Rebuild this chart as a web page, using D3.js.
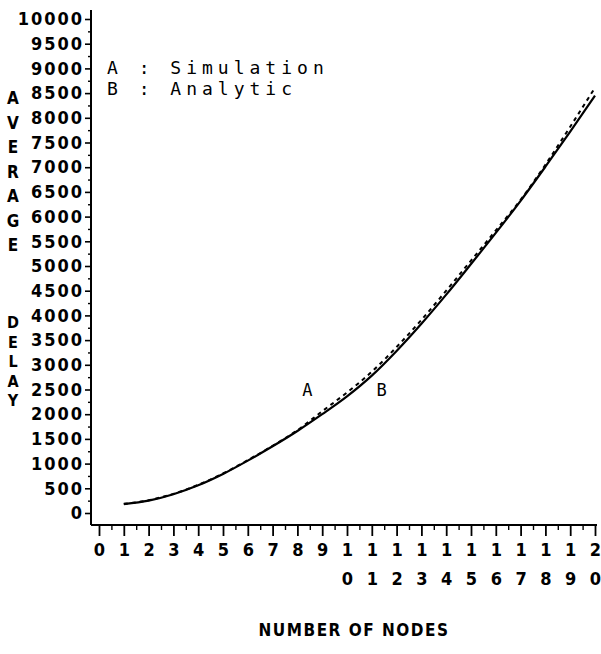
<!DOCTYPE html>
<html>
<head>
<meta charset="utf-8">
<script src="https://cdn.jsdelivr.net/npm/d3@7"></script>
<style>
  html, body { margin: 0; padding: 0; background: #fff; }
  svg { display: block; }
</style>
</head>
<body>
<svg id="chart" width="601" height="654"></svg>
<script>
// ---- data ----
const nodes = [1, 2, 3, 4, 5, 6, 7, 8, 9, 10, 11, 12, 13, 14, 15, 16, 17, 18, 19, 20];
const simulation = [180, 250, 380, 560, 790, 1060, 1350, 1660, 2000, 2360, 2780, 3280, 3830, 4420, 5040, 5670, 6320, 7010, 7720, 8450];
const analytic   = [185, 258, 388, 570, 800, 1070, 1360, 1675, 2060, 2440, 2860, 3360, 3910, 4500, 5110, 5720, 6340, 7050, 7820, 8610];
const yTicks = d3.range(0, 10001, 500);
const xTicks = d3.range(0, 21, 1);
const legendLines = ["A : Simulation", "B : Analytic"];
const yTitleTop = "AVERAGE";
const yTitleBottom = "DELAY";
const xTitle = "NUMBER OF NODES";
const curveLabels = [{t: "A", n: 8.4, v: 2370}, {t: "B", n: 11.4, v: 2370}];

// ---- scales ----
const svg = d3.select("#chart");
const x = d3.scaleLinear().domain([0, 20]).range([99, 595]);
const y = d3.scaleLinear().domain([0, 10000]).range([513, 19]);
const axisX0 = 91, axisY0 = 525;
const plotFont = "'DejaVu Sans Condensed', 'DejaVu Sans', sans-serif";

// axis lines
svg.append("line").attr("x1", axisX0).attr("x2", axisX0).attr("y1", 10).attr("y2", axisY0)
  .attr("stroke", "#000").attr("stroke-width", 2);
svg.append("line").attr("x1", axisX0).attr("x2", 597).attr("y1", axisY0).attr("y2", axisY0)
  .attr("stroke", "#000").attr("stroke-width", 2);

// y axis major
const yAx = svg.append("g").attr("transform", `translate(${axisX0},0)`)
  .call(d3.axisLeft(y).tickValues(yTicks).tickSize(6).tickPadding(1).tickFormat(d3.format("d")));
yAx.select(".domain").remove();
yAx.selectAll("line").attr("stroke-width", 1.6);
yAx.selectAll("text").attr("font-family", plotFont).attr("font-weight", "bold")
  .attr("font-size", 18).attr("letter-spacing", "2px").attr("fill", "#000");
// y axis minor
const yMin = svg.append("g").attr("transform", `translate(${axisX0},0)`)
  .call(d3.axisLeft(y).tickValues(yTicks.slice(0, -1).map(v => v + 250)).tickSize(3).tickFormat(""));
yMin.select(".domain").remove();
yMin.selectAll("line").attr("stroke-width", 1.4);

// x axis major
const xAx = svg.append("g").attr("transform", `translate(0,${axisY0})`)
  .call(d3.axisBottom(x).tickValues(xTicks).tickSize(11).tickFormat(""));
xAx.select(".domain").remove();
xAx.selectAll("line").attr("stroke-width", 1.8);
// two-row labels
xAx.selectAll(".tick").each(function(d) {
  const s = String(d);
  const g = d3.select(this);
  g.append("text").attr("y", 31).attr("text-anchor", "middle")
    .attr("font-family", plotFont).attr("font-weight", "bold").attr("font-size", 18)
    .attr("fill", "#000").text(s[0]);
  if (s.length > 1) {
    g.append("text").attr("y", 60).attr("text-anchor", "middle")
      .attr("font-family", plotFont).attr("font-weight", "bold").attr("font-size", 18)
      .attr("fill", "#000").text(s[1]);
  }
});
// x axis minor
const xMin = svg.append("g").attr("transform", `translate(0,${axisY0})`)
  .call(d3.axisBottom(x).tickValues(xTicks.slice(0, -1).map(v => v + 0.5)).tickSize(5).tickFormat(""));
xMin.select(".domain").remove();
xMin.selectAll("line").attr("stroke-width", 1.4);

// curves
const line = d3.line().x((d, i) => x(nodes[i])).y(d => y(d)).curve(d3.curveMonotoneX);
svg.append("path").datum(simulation).attr("d", line)
  .attr("fill", "none").attr("stroke", "#000").attr("stroke-width", 2.2);
svg.append("path").datum(analytic).attr("d", line)
  .attr("fill", "none").attr("stroke", "#000").attr("stroke-width", 2)
  .attr("stroke-dasharray", "4,4");

// curve labels
svg.selectAll("text.cl").data(curveLabels).enter().append("text").attr("class", "cl")
  .attr("x", d => x(d.n)).attr("y", d => y(d.v)).attr("text-anchor", "middle")
  .attr("font-family", "'DejaVu Sans Mono', monospace").attr("font-size", 17).attr("fill", "#000")
  .text(d => d.t);

// legend
svg.selectAll("text.lg").data(legendLines).enter().append("text").attr("class", "lg")
  .attr("x", 107).attr("y", (d, i) => 74 + i * 21)
  .attr("font-family", "'DejaVu Sans Mono', monospace").attr("font-size", 18)
  .attr("letter-spacing", "5px").attr("fill", "#000")
  .style("white-space", "pre")
  .text(d => d);

// y title (stacked letters)
yTitleTop.split("").forEach((c, i) => {
  svg.append("text").attr("x", 13).attr("y", 104 + i * 24.5).attr("text-anchor", "middle")
    .attr("font-family", plotFont).attr("font-weight", "bold").attr("font-size", 17)
    .attr("fill", "#000").text(c);
});
yTitleBottom.split("").forEach((c, i) => {
  svg.append("text").attr("x", 13).attr("y", 328 + i * 19.5).attr("text-anchor", "middle")
    .attr("font-family", plotFont).attr("font-weight", "bold").attr("font-size", 16)
    .attr("fill", "#000").text(c);
});

// x title
svg.append("text").attr("x", 354).attr("y", 636).attr("text-anchor", "middle")
  .attr("font-family", plotFont).attr("font-weight", "bold").attr("font-size", 17)
  .attr("letter-spacing", "1.5px").attr("fill", "#000").text(xTitle);
</script>
</body>
</html>
